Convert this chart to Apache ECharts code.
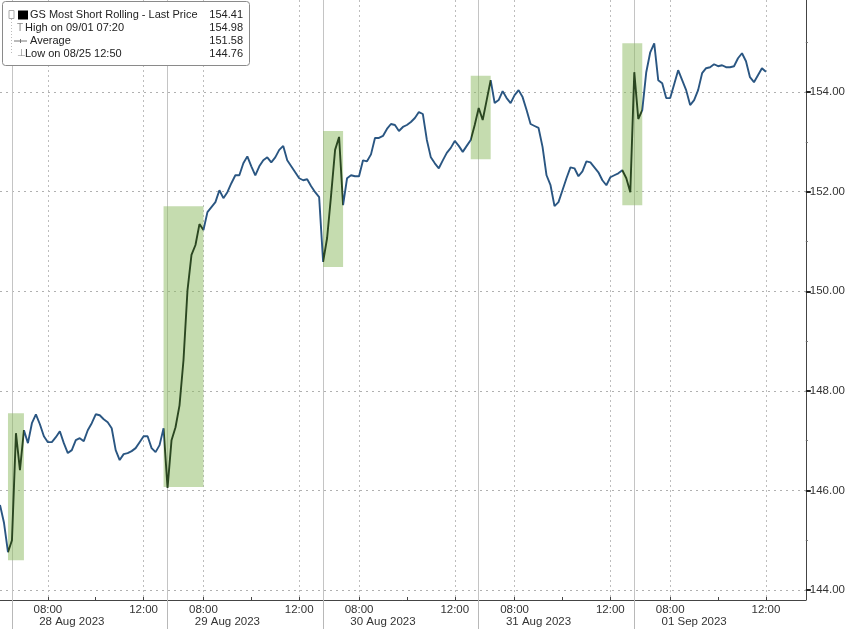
<!DOCTYPE html>
<html>
<head>
<meta charset="utf-8">
<script src="https://cdn.jsdelivr.net/npm/echarts@6/dist/echarts.min.js"></script>
<style>
html,body{margin:0;padding:0;background:#fff;}
#chart{width:848px;height:629px;}
</style>
</head>
<body>
<div id="chart"></div>
<script>
// ---- data ----
const dayKeys   = ['08/25', '08/28', '08/29', '08/30', '08/31', '09/01'];
const dayLabels = ['25 Aug 2023', '28 Aug 2023', '29 Aug 2023', '30 Aug 2023', '31 Aug 2023', '01 Sep 2023'];
const dayStart  = ['12:30', '06:30', '06:30', '06:30', '06:30', '06:30'];
const dayEnd    = ['12:50', '12:50', '12:50', '12:50', '12:50', '13:40'];
const timeTickLabels = ['08:00', '12:00'];
const yTickLabels = [144, 146, 148, 150, 152, 154];
const yMinorTicks = [145, 147, 149, 151, 153, 155];

// 10-minute closes, GS Most Short Rolling
const prices = [
  145.71, 145.35, 144.76,
  // 28 Aug
  145.00, 147.15, 146.41, 147.21, 146.95, 147.35, 147.53, 147.33, 147.09, 146.97,
  146.97, 147.07, 147.19, 146.95, 146.75, 146.81, 147.01, 147.05, 146.99, 147.21,
  147.35, 147.53, 147.51, 147.43, 147.37, 147.25, 146.81, 146.61, 146.73, 146.75,
  146.79, 146.85, 146.97, 147.09, 147.09, 146.85, 146.77, 146.91, 147.25,
  // 29 Aug
  146.05, 147.01, 147.27, 147.71, 148.62, 150.02, 150.73, 150.93, 151.35, 151.23,
  151.59, 151.69, 151.79, 152.03, 151.87, 151.99, 152.17, 152.33, 152.33, 152.57,
  152.71, 152.51, 152.33, 152.51, 152.63, 152.69, 152.59, 152.69, 152.84, 152.92,
  152.63, 152.51, 152.39, 152.27, 152.23, 152.25, 152.11, 151.99, 151.89,
  // 30 Aug
  150.59, 151.07, 151.93, 152.84, 153.10, 151.73, 152.27, 152.33, 152.31, 152.31,
  152.63, 152.61, 152.75, 153.08, 153.08, 153.12, 153.26, 153.36, 153.34, 153.22,
  153.30, 153.34, 153.40, 153.48, 153.60, 153.56, 153.04, 152.69, 152.57, 152.47,
  152.63, 152.78, 152.88, 153.02, 152.92, 152.80, 152.92, 153.04, 153.34,
  // 31 Aug
  153.68, 153.44, 153.84, 154.24, 153.78, 153.84, 154.02, 153.88, 153.78, 153.94,
  154.04, 153.90, 153.64, 153.36, 153.32, 153.28, 152.90, 152.33, 152.13, 151.71,
  151.79, 152.03, 152.27, 152.49, 152.47, 152.31, 152.41, 152.61, 152.59, 152.49,
  152.39, 152.23, 152.13, 152.29, 152.33, 152.37, 152.43, 152.27, 151.99,
  // 01 Sep
  154.40, 153.46, 153.64, 154.40, 154.80, 154.98, 154.24, 154.18, 153.88, 153.88,
  154.16, 154.44, 154.24, 154.04, 153.74, 153.84, 154.04, 154.38, 154.48, 154.50,
  154.56, 154.52, 154.54, 154.50, 154.50, 154.52, 154.68, 154.78, 154.62, 154.30,
  154.20, 154.34, 154.48, 154.41
];

// shaded (green) windows: [startCategoryIndex, endCategoryIndex, low, high]
const shadeStart = [2, 41, 81, 118, 156];
const shadeEnd   = [6, 51, 86, 123, 161];
const shadeLow   = [144.60, 146.07, 150.49, 152.65, 151.73];
const shadeHigh  = [147.55, 151.71, 153.22, 154.33, 154.98];

// legend statistics
const lastPrice = 154.41;
const highText = 'High on 09/01 07:20', highValue = 154.98;
const avgValue = 151.58;
const lowText = 'Low on 08/25 12:50', lowValue = 144.76;

// ---- build categories ----
function toMin(t){const p=t.split(':');return (+p[0])*60+(+p[1]);}
function fmt(m){const h=Math.floor(m/60),mm=m%60;return (h<10?'0':'')+h+':'+(mm<10?'0':'')+mm;}
const categories = [];
dayKeys.forEach((d, i) => {
  for (let m = toMin(dayStart[i]); m <= toMin(dayEnd[i]); m += 10) categories.push(d + ' ' + fmt(m));
});
const timeOf = v => v.slice(6);

const FONT = 'Liberation Sans';
const chart = echarts.init(document.getElementById('chart'));

const markAreaData = shadeStart.map((s, i) => [
  { xAxis: categories[shadeStart[i]], yAxis: shadeLow[i] },
  { xAxis: categories[shadeEnd[i]], yAxis: shadeHigh[i] }
]);

const LF = '11px ' + FONT;
const option = {
  animation: false,
  backgroundColor: '#fff',
  grid: { left: 0, right: 42, top: 0, bottom: 29, containLabel: false },
  xAxis: [
    {
      type: 'category', data: categories, boundaryGap: false, position: 'bottom',
      axisLine: { show: true, lineStyle: { color: '#444', width: 1 } },
      axisTick: { show: true, interval: (i, v) => timeOf(v) === '06:30', length: 29, lineStyle: { color: '#b8b8b8', width: 1 } },
      axisLabel: { interval: (i, v) => timeTickLabels.indexOf(timeOf(v)) >= 0, formatter: v => timeOf(v),
        margin: 4, fontFamily: FONT, fontSize: 11.5, color: '#333' },
      splitLine: { show: true, interval: (i, v) => timeOf(v) === '06:30', lineStyle: { color: '#c4c4c4', width: 1, type: 'solid' } }
    },
    {
      type: 'category', data: categories, boundaryGap: false, position: 'bottom',
      axisLine: { show: false },
      axisTick: { show: true, inside: true, interval: (i, v) => ['08:00','10:00','12:00'].indexOf(timeOf(v)) >= 0, length: 3, lineStyle: { color: '#444' } },
      axisLabel: { interval: (i, v) => timeOf(v) === '09:00', formatter: v => dayLabels[dayKeys.indexOf(v.slice(0,5))],
        margin: 16, fontFamily: FONT, fontSize: 11.5, color: '#333' },
      splitLine: { show: true, interval: (i, v) => timeTickLabels.indexOf(timeOf(v)) >= 0, lineStyle: { color: '#bdbdbd', width: 1, type: [2, 3] } }
    }
  ],
  yAxis: [
    {
      type: 'value', position: 'right', min: 143.8, max: 155.85,
      axisLine: { show: true, lineStyle: { color: '#444', width: 1 } },
      axisTick: { show: true, customValues: yTickLabels, length: 5, lineStyle: { color: '#222', width: 2 } },
      axisLabel: { customValues: yTickLabels, formatter: v => v.toFixed(2), margin: 4,
        fontFamily: FONT, fontSize: 11.5, color: '#333' },
      splitLine: { show: true, lineStyle: { color: '#b0b0b0', width: 1, type: [2, 4] } }
    },
    {
      type: 'value', position: 'right', min: 143.8, max: 155.85,
      axisLine: { show: false },
      axisTick: { show: true, customValues: yMinorTicks, length: 2, lineStyle: { color: '#666', width: 1 } },
      axisLabel: { show: false },
      splitLine: { show: false }
    }
  ],
  visualMap: {
    show: false, type: 'piecewise', dimension: 0, seriesIndex: 1,
    pieces: shadeStart.map((s, i) => ({ gte: shadeStart[i], lte: shadeEnd[i], color: '#2a4620' })),
    outOfRange: { color: '#2a5682' }
  },
  series: [
    {
      type: 'line', data: [], z: 1, silent: true,
      markArea: { silent: true, itemStyle: { color: 'rgba(140,186,96,0.5)' }, data: markAreaData }
    },
    {
      type: 'line', data: prices, z: 3, showSymbol: false, symbol: 'none',
      lineStyle: { width: 1.9 },
      markLine: {
        silent: true, symbol: 'none',
        lineStyle: { opacity: 0 },
        label: { show: true, position: 'end', distance: 5, formatter: p => p.value.toFixed(2),
          backgroundColor: '#111', color: '#fff', padding: [2, 3, 1, 3], borderRadius: 3,
          fontFamily: FONT, fontSize: 11 },
        data: [{ yAxis: lastPrice }]
      }
    }
  ],
  graphic: [
    { type: 'rect', z: 100, shape: { x: 2.5, y: 1.5, width: 247, height: 64, r: 3 },
      style: { fill: '#fff', stroke: '#8a8a8a', lineWidth: 1 } },
    { type: 'line', z: 101, shape: { x1: 11.5, y1: 10, x2: 11.5, y2: 55 },
      style: { stroke: '#bbb', lineWidth: 1, lineDash: [1, 2] } },
    { type: 'rect', z: 101, shape: { x: 9, y: 10.5, width: 5, height: 8 }, style: { fill: '#fff', stroke: '#aaa' } },
    { type: 'rect', z: 101, shape: { x: 18, y: 10.5, width: 10, height: 9 }, style: { fill: '#000' } },
    { type: 'text', z: 101, style: { x: 30, y: 15, text: 'GS Most Short Rolling - Last Price', font: LF, fill: '#222', textVerticalAlign: 'middle' } },
    { type: 'text', z: 101, style: { x: 243, y: 15, text: lastPrice.toFixed(2), font: LF, fill: '#222', textAlign: 'right', textVerticalAlign: 'middle' } },
    { type: 'text', z: 101, style: { x: 17, y: 28, text: 'T', font: '10px ' + FONT, fill: '#888', textVerticalAlign: 'middle' } },
    { type: 'text', z: 101, style: { x: 25, y: 28, text: highText, font: LF, fill: '#222', textVerticalAlign: 'middle' } },
    { type: 'text', z: 101, style: { x: 243, y: 28, text: highValue.toFixed(2), font: LF, fill: '#222', textAlign: 'right', textVerticalAlign: 'middle' } },
    { type: 'line', z: 101, shape: { x1: 14, y1: 41, x2: 27, y2: 41 }, style: { stroke: '#777', lineWidth: 1 } },
    { type: 'line', z: 101, shape: { x1: 20.5, y1: 39, x2: 20.5, y2: 43 }, style: { stroke: '#777', lineWidth: 1 } },
    { type: 'text', z: 101, style: { x: 30, y: 41, text: 'Average', font: LF, fill: '#222', textVerticalAlign: 'middle' } },
    { type: 'text', z: 101, style: { x: 243, y: 41, text: avgValue.toFixed(2), font: LF, fill: '#222', textAlign: 'right', textVerticalAlign: 'middle' } },
    { type: 'text', z: 101, style: { x: 17, y: 53.5, text: '⊥', font: '10px DejaVu Sans', fill: '#888', textVerticalAlign: 'middle' } },
    { type: 'text', z: 101, style: { x: 25, y: 53.5, text: lowText, font: LF, fill: '#222', textVerticalAlign: 'middle' } },
    { type: 'text', z: 101, style: { x: 243, y: 53.5, text: lowValue.toFixed(2), font: LF, fill: '#222', textAlign: 'right', textVerticalAlign: 'middle' } }
  ]
};
chart.setOption(option);
</script>
</body>
</html>
